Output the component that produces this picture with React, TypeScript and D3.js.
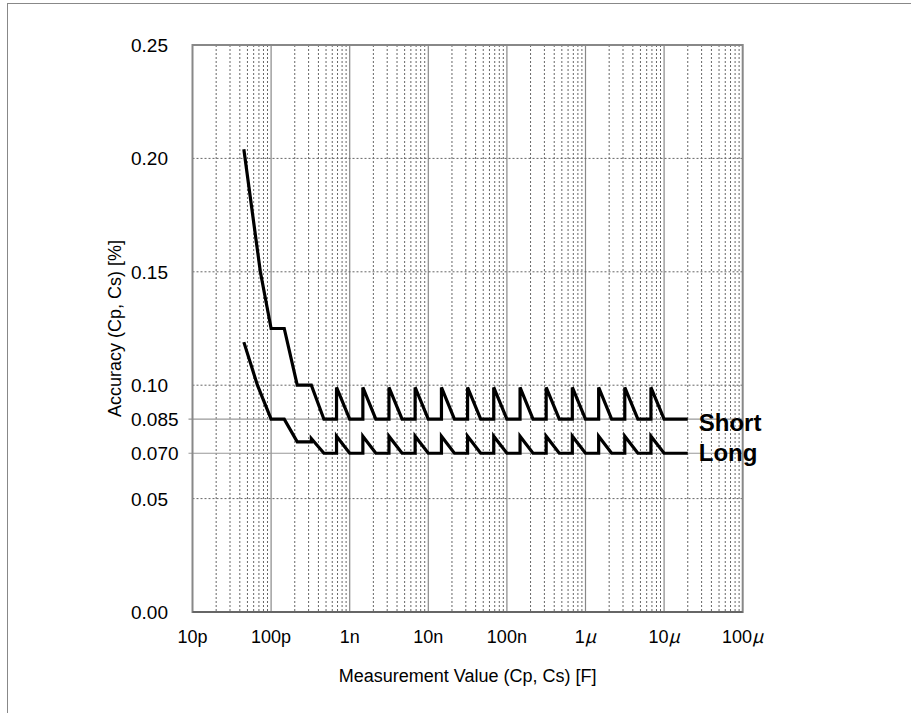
import React from "react";
import * as d3 from "d3";

// ---- data ----
const shortC = [45e-12, 73e-12, 100e-12, 147e-12, 215e-12, 325e-12, 470e-12, 680e-12, 680e-12, 1e-9, 1.47e-9, 1.47e-9, 2.15e-9, 3.16e-9, 3.16e-9, 4.64e-9, 6.8e-9, 6.8e-9, 10e-9, 14.7e-9, 14.7e-9, 21.5e-9, 31.6e-9, 31.6e-9, 46.4e-9, 68e-9, 68e-9, 100e-9, 147e-9, 147e-9, 215e-9, 316e-9, 316e-9, 464e-9, 680e-9, 680e-9, 1e-6, 1.47e-6, 1.47e-6, 2.15e-6, 3.16e-6, 3.16e-6, 4.64e-6, 6.8e-6, 6.8e-6, 10e-6, 20e-6];
const shortAcc = [0.204, 0.150, 0.125, 0.125, 0.100, 0.100, 0.085, 0.085, 0.099, 0.085, 0.085, 0.099, 0.085, 0.085, 0.099, 0.085, 0.085, 0.099, 0.085, 0.085, 0.099, 0.085, 0.085, 0.099, 0.085, 0.085, 0.099, 0.085, 0.085, 0.099, 0.085, 0.085, 0.099, 0.085, 0.085, 0.099, 0.085, 0.085, 0.099, 0.085, 0.085, 0.099, 0.085, 0.085, 0.099, 0.085, 0.085];

const longC = [45e-12, 67e-12, 100e-12, 147e-12, 215e-12, 325e-12, 325e-12, 470e-12, 680e-12, 680e-12, 1e-9, 1.47e-9, 1.47e-9, 2.15e-9, 3.16e-9, 3.16e-9, 4.64e-9, 6.8e-9, 6.8e-9, 10e-9, 14.7e-9, 14.7e-9, 21.5e-9, 31.6e-9, 31.6e-9, 46.4e-9, 68e-9, 68e-9, 100e-9, 147e-9, 147e-9, 215e-9, 316e-9, 316e-9, 464e-9, 680e-9, 680e-9, 1e-6, 1.47e-6, 1.47e-6, 2.15e-6, 3.16e-6, 3.16e-6, 4.64e-6, 6.8e-6, 6.8e-6, 10e-6, 20e-6];
const longAcc = [0.119, 0.100, 0.085, 0.085, 0.075, 0.075, 0.0765, 0.070, 0.070, 0.0775, 0.070, 0.070, 0.0775, 0.070, 0.070, 0.0775, 0.070, 0.070, 0.0775, 0.070, 0.070, 0.0775, 0.070, 0.070, 0.0775, 0.070, 0.070, 0.0775, 0.070, 0.070, 0.0775, 0.070, 0.070, 0.0775, 0.070, 0.070, 0.0775, 0.070, 0.070, 0.0775, 0.070, 0.070, 0.0775, 0.070, 0.070, 0.0775, 0.070, 0.070];

const seriesNames = ["Short", "Long"];

const xTickValues = [1e-11, 1e-10, 1e-9, 1e-8, 1e-7, 1e-6, 1e-5, 1e-4];
const xTickNums = ["10", "100", "1", "10", "100", "1", "10", "100"];
const xTickUnits = ["p", "p", "n", "n", "n", "μ", "μ", "μ"];

const yTickValues = [0, 0.05, 0.07, 0.085, 0.1, 0.15, 0.2, 0.25];
const yTickLabels = ["0.00", "0.05", "0.070", "0.085", "0.10", "0.15", "0.20", "0.25"];
const yDotted = [0.05, 0.1, 0.15, 0.2];
const ySolid = [0.07, 0.085];

const xTitle = "Measurement Value (Cp, Cs) [F]";
const yTitle = "Accuracy (Cp, Cs) [%]";

export default function App() {
  const W = 911, H = 713;
  const left = 192.5, right = 742.7, top = 45, bottom = 612;
  const x = d3.scaleLog().domain([1e-11, 1e-4]).range([left, right]);
  const y = d3.scaleLinear().domain([0, 0.25]).range([bottom, top]);

  const minor: number[] = [];
  for (let e = -11; e < -4; e++) {
    for (let m = 2; m <= 9; m++) minor.push(m * Math.pow(10, e));
  }

  const line = d3.line<[number, number]>().x(d => x(d[0])).y(d => y(d[1]));
  const shortPts = shortC.map((c, i) => [c, shortAcc[i]] as [number, number]);
  const longPts = longC.map((c, i) => [c, longAcc[i]] as [number, number]);

  const lastS = shortPts[shortPts.length - 1];
  const lastL = longPts[longPts.length - 1];
  const font = "Liberation Sans, Arial, sans-serif";

  return (
    <svg width={W} height={H} style={{ position: "absolute", left: 0, top: 0 }}>
      <rect x={0} y={0} width={W} height={H} fill="#fff" />
      <rect x={7.5} y={3.5} width={W + 10} height={H + 10} fill="none" stroke="#888" strokeWidth={1} />
      {/* minor vertical grid */}
      {minor.map((v, i) => (
        <line key={"m" + i} x1={x(v)} x2={x(v)} y1={top} y2={bottom} stroke="#666" strokeWidth={1} strokeDasharray="2,2" />
      ))}
      {/* decade lines */}
      {xTickValues.slice(1, -1).map((v, i) => (
        <line key={"d" + i} x1={x(v)} x2={x(v)} y1={top} y2={bottom} stroke="#888" strokeWidth={1.2} />
      ))}
      {/* horizontal dotted */}
      {yDotted.map((v, i) => (
        <line key={"hd" + i} x1={left} x2={right} y1={y(v)} y2={y(v)} stroke="#666" strokeWidth={1} strokeDasharray="2,2" />
      ))}
      {ySolid.map((v, i) => (
        <line key={"hs" + i} x1={left - 4} x2={right} y1={y(v)} y2={y(v)} stroke="#999" strokeWidth={1.2} />
      ))}
      {/* frame */}
      <rect x={left} y={top} width={right - left} height={bottom - top} fill="none" stroke="#888" strokeWidth={2} />
      <line x1={left} x2={right} y1={bottom} y2={bottom} stroke="#666" strokeWidth={2} />

      {/* series */}
      <path d={line(shortPts) || ""} fill="none" stroke="#000" strokeWidth={3.2} strokeLinejoin="miter" />
      <path d={line(longPts) || ""} fill="none" stroke="#000" strokeWidth={3.2} strokeLinejoin="miter" />

      <text x={x(lastS[0]) + 11} y={y(lastS[1]) + 12} fontFamily={font} fontWeight="bold" fontSize={24}>{seriesNames[0]}</text>
      <text x={x(lastL[0]) + 11} y={y(lastL[1]) + 8} fontFamily={font} fontWeight="bold" fontSize={24}>{seriesNames[1]}</text>

      {/* y tick labels */}
      {yTickValues.map((v, i) => (
        <text key={"yl" + i} x={131} y={y(v) + 7} fontFamily={font} fontSize={19} fill="#000">{yTickLabels[i]}</text>
      ))}
      {/* x tick labels */}
      {xTickValues.map((v, i) => (
        <text key={"xl" + i} x={x(v)} y={bottom + 31} textAnchor="middle" fontFamily={font} fontSize={18} fill="#000">
          {xTickNums[i]}
          {xTickUnits[i] === "μ" ? <tspan fontFamily="Noto Sans CJK JP" fontStyle="italic">{xTickUnits[i]}</tspan> : xTickUnits[i]}
        </text>
      ))}
      <text x={(left + right) / 2} y={bottom + 70} textAnchor="middle" fontFamily={font} fontSize={18} fill="#000">{xTitle}</text>
      <text transform={`translate(121, ${(top + bottom) / 2}) rotate(-90)`} textAnchor="middle" fontFamily={font} fontSize={18} fill="#000">{yTitle}</text>
    </svg>
  );
}
